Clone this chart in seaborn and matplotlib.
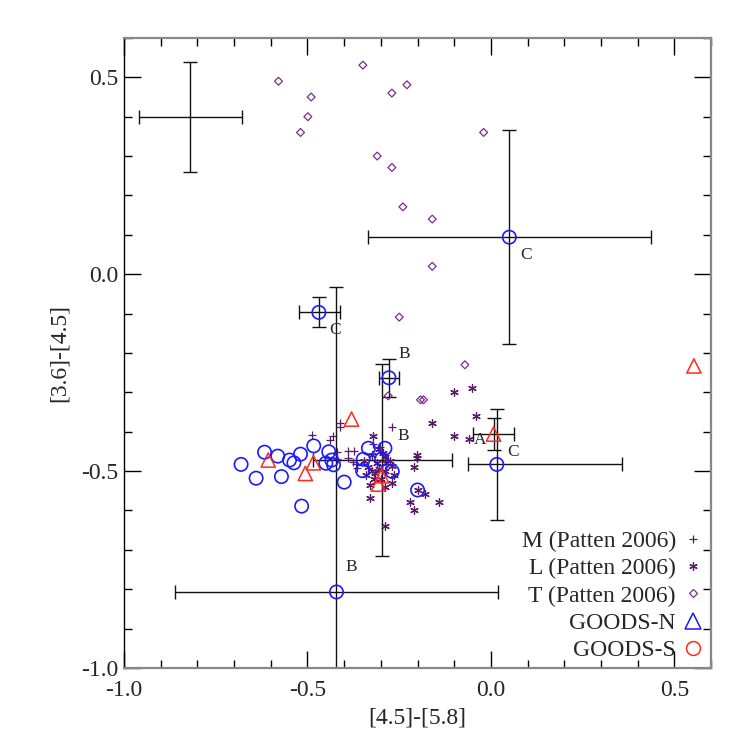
import matplotlib
matplotlib.use("Agg")
import matplotlib.pyplot as plt
from matplotlib.lines import Line2D
from matplotlib.ticker import MultipleLocator
import seaborn as sns

# ---- M dwarfs (Patten 2006) ----
m_x = [-0.489, -0.439, -0.430, -0.411, -0.411, -0.269, -0.419, -0.419,
       -0.389, -0.373, -0.375, -0.368, -0.389, -0.302, -0.366, -0.322]
m_y = [-0.408, -0.421, -0.410, -0.379, -0.389, -0.389, -0.452, -0.470,
       -0.450, -0.450, -0.478, -0.482, -0.467, -0.440, -0.491, -0.430]

# ---- L dwarfs (Patten 2006) ----
l_x = [-0.101, -0.051, -0.041, -0.160, -0.101, -0.060, -0.321, -0.201,
       -0.201, -0.210, -0.269, -0.271, -0.289, -0.330, -0.220, -0.210,
       -0.141, -0.180, -0.200, -0.289, -0.345, -0.335, -0.325, -0.340,
       -0.315, -0.305, -0.310, -0.300, -0.290, -0.285, -0.320, -0.330,
       -0.295, -0.305, -0.290, -0.275, -0.265, -0.325]
l_y = [-0.300, -0.290, -0.360, -0.379, -0.410, -0.418, -0.410, -0.459,
       -0.467, -0.489, -0.487, -0.531, -0.540, -0.569, -0.579, -0.599,
       -0.579, -0.559, -0.548, -0.639, -0.475, -0.490, -0.500, -0.510,
       -0.505, -0.495, -0.480, -0.520, -0.500, -0.480, -0.520, -0.535,
       -0.455, -0.445, -0.465, -0.475, -0.510, -0.460]

# ---- T dwarfs (Patten 2006) ----
t_x = [-0.349, -0.579, -0.490, -0.229, -0.270, -0.499, -0.519, -0.020,
       -0.310, -0.270, -0.240, -0.160, -0.160, -0.250, -0.071, -0.280,
       -0.184, -0.192]
t_y = [0.531, 0.490, 0.450, 0.481, 0.460, 0.400, 0.360, 0.360,
       0.300, 0.271, 0.171, 0.140, 0.020, -0.109, -0.230, -0.309,
       -0.319, -0.319]

# ---- GOODS candidates drawn as blue circles ----
gn_x = [-0.681, -0.640, -0.617, -0.581, -0.571, -0.549, -0.537, -0.519,
        -0.516, -0.483, -0.442, -0.450, -0.434, -0.429, -0.400, -0.334,
        -0.348, -0.350, -0.289, -0.269, -0.200, -0.298, 0.050, -0.469,
        -0.278, 0.016, -0.421]
gn_y = [-0.483, -0.518, -0.452, -0.462, -0.514, -0.472, -0.479, -0.457,
        -0.589, -0.436, -0.451, -0.480, -0.472, -0.484, -0.528, -0.442,
        -0.470, -0.499, -0.442, -0.501, -0.548, -0.470, 0.094, -0.097,
        -0.263, -0.483, -0.807]

# ---- GOODS candidates drawn as red triangles ----
gs_x = [-0.607, -0.484, -0.506, -0.380, -0.307, -0.298, 0.007, 0.553]
gs_y = [-0.472, -0.479, -0.506, -0.368, -0.533, -0.512, -0.406, -0.233]

# ---- error bars on selected objects (x, y, -dx, +dx, -dy, +dy, tag) ----
eb_x = [-0.819, 0.050, -0.469, -0.278, -0.296, 0.007, 0.016, -0.421]
eb_y = [0.399, 0.094, -0.097, -0.263, -0.472, -0.406, -0.483, -0.807]
eb_xlo = [0.139, 0.384, 0.054, 0.027, 0.188, 0.055, 0.079, 0.440]
eb_xhi = [0.141, 0.386, 0.058, 0.028, 0.189, 0.056, 0.341, 0.440]
eb_ylo = [0.139, 0.272, 0.038, 0.048, 0.244, 0.040, 0.141, 0.775]
eb_yhi = [0.141, 0.272, 0.038, 0.048, 0.244, 0.040, 0.141, 0.775]
eb_tag = ["", "C", "C", "B", "B", "A", "C", "B"]
tag_off = [(0, 0), (12, -13), (12, -13), (11, 17), (15, 17), (-10, -4), (12, 9), (11, 18)]

PURPLE = "#5a1a6a"
DIAMOND = "#7a2e8e"
BLUE = "#1a1aff"
RED = "#ff2a1a"

sns.set_style("ticks")
plt.rcParams["font.family"] = ["Liberation Serif", "DejaVu Serif"]
plt.rcParams["axes.unicode_minus"] = False

fig = plt.figure(figsize=(7.47, 7.47), dpi=100)
ax = fig.add_axes([0.166, 0.1058, 0.786, 0.8434])

# error bars first
ax.errorbar(eb_x, eb_y, xerr=[eb_xlo, eb_xhi], yerr=[eb_ylo, eb_yhi],
            fmt="none", ecolor="#111111", elinewidth=1.0, capsize=5, capthick=1.0,
            zorder=2)

sns.scatterplot(x=m_x, y=m_y, marker="+", s=30, color=PURPLE, linewidth=0.9, ax=ax, zorder=3)
sns.scatterplot(x=l_x, y=l_y, marker=(6, 2, 0), s=30, color=PURPLE, linewidth=0.9, ax=ax, zorder=3)
sns.scatterplot(x=t_x, y=t_y, marker="D", s=16, facecolor="none", edgecolor=DIAMOND,
                linewidth=0.9, ax=ax, zorder=3)
sns.scatterplot(x=gn_x, y=gn_y, marker="o", s=92, facecolor="none", edgecolor=BLUE,
                linewidth=1.2, ax=ax, zorder=4)
sns.scatterplot(x=gs_x, y=gs_y, marker="^", s=105, facecolor="none", edgecolor=RED,
                linewidth=1.1, ax=ax, zorder=4)

for x, y, tag, off in zip(eb_x, eb_y, eb_tag, tag_off):
    if tag:
        ax.annotate(tag, (x, y), xytext=off, textcoords="offset points",
                    ha="center", va="center", fontsize=12.5)

ax.set_xlim(-1.0, 0.6)
ax.set_ylim(-1.0, 0.6)
ax.xaxis.set_major_locator(MultipleLocator(0.5))
ax.xaxis.set_minor_locator(MultipleLocator(0.1))
ax.yaxis.set_major_locator(MultipleLocator(0.5))
ax.yaxis.set_minor_locator(MultipleLocator(0.1))
ax.xaxis.set_major_formatter(lambda v, p: f"{v:.1f}")
ax.yaxis.set_major_formatter(lambda v, p: f"{v:.1f}")
ax.tick_params(which="both", direction="in", top=True, right=True, color="black",
               labelsize=17, width=1)
ax.tick_params(which="major", length=12)
ax.tick_params(which="minor", length=6)
ax.tick_params(axis="x", which="major", pad=9)
ax.tick_params(axis="y", which="major", pad=4)
for name, sp in ax.spines.items():
    if name == "left":
        sp.set_color("black")
        sp.set_linewidth(1.0)
    else:
        sp.set_color("#888888")
        sp.set_linewidth(1.6)

ax.set_xlabel("[4.5]-[5.8]", fontsize=17, labelpad=4)
ax.set_ylabel("[3.6]-[4.5]", fontsize=17, labelpad=8)

handles = [
    Line2D([], [], marker="+", ls="none", color=PURPLE, markersize=6, mew=0.9),
    Line2D([], [], marker=(6, 2, 0), ls="none", color=PURPLE, markersize=6, mew=0.9),
    Line2D([], [], marker="D", ls="none", mfc="none", mec=DIAMOND, markersize=4, mew=0.9),
    Line2D([], [], marker="^", ls="none", mfc="none", mec=BLUE, markersize=11, mew=1.1),
    Line2D([], [], marker="o", ls="none", mfc="none", mec=RED, markersize=10, mew=1.1),
]
labels = ["M (Patten 2006)", "L (Patten 2006)", "T (Patten 2006)", "GOODS-N", "GOODS-S"]
ax.legend(handles, labels, loc="lower right", bbox_to_anchor=(0.99, 0.011),
          frameon=False, markerfirst=False, fontsize=17, handlelength=1.0,
          handletextpad=0.25, labelspacing=0.24, borderpad=0, borderaxespad=0)

fig.savefig("out.png", dpi=100)
